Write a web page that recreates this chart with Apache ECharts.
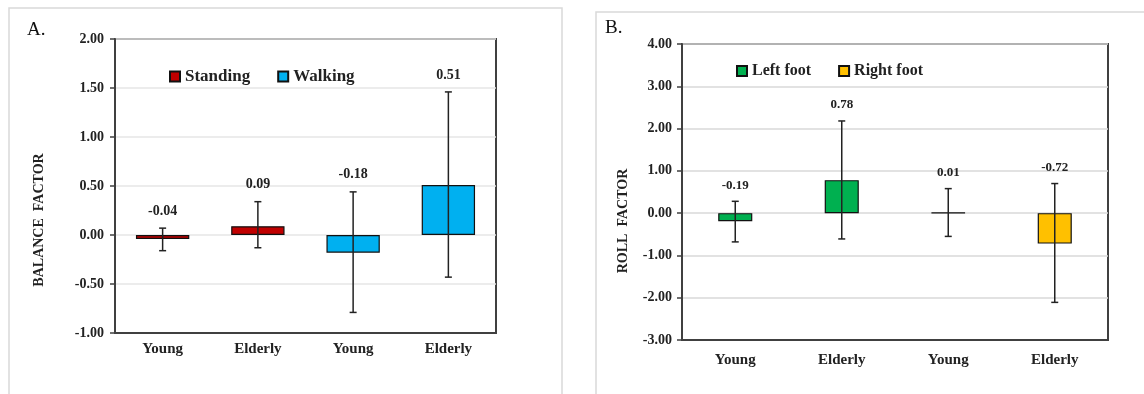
<!DOCTYPE html>
<html>
<head>
<meta charset="UTF-8" />
<script src="https://cdn.jsdelivr.net/npm/echarts@6/dist/echarts.min.js"></script>
<style>
  html, body { margin: 0; padding: 0; background: #fff; }
  #chart { width: 1144px; height: 394px; }
</style>
</head>
<body>
<div id="chart"></div>
<script>
// panel A: balance factor
const catsA = ['Young', 'Elderly', 'Young', 'Elderly'];
const standingMean = [-0.04, 0.09, '-', '-'];
const walkingMean = ['-', '-', -0.18, 0.51];
const meanA = [-0.04, 0.09, -0.18, 0.51];
const lowA = [-0.16, -0.13, -0.79, -0.43];
const highA = [0.07, 0.34, 0.44, 1.46];

// panel B: roll factor
const catsB = ['Young', 'Elderly', 'Young', 'Elderly'];
const leftMean = [-0.19, 0.78, '-', '-'];
const rightMean = ['-', '-', 0.01, -0.72];
const meanB = [-0.19, 0.78, 0.01, -0.72];
const lowB = [-0.68, -0.61, -0.55, -2.11];
const highB = [0.28, 2.18, 0.58, 0.70];

const SERIF = '"Liberation Serif", "Times New Roman", serif';
const AXIS = '#404040';

function errData(mean, low, high) {
  return mean.map((m, i) => [i, low[i], high[i], m]);
}

function errSeries(xi, yi, mean, low, high, fontSize, gap) {
  return {
    type: 'custom',
    xAxisIndex: xi,
    yAxisIndex: yi,
    z: 10,
    silent: true,
    encode: { x: 0, y: [1, 2] },
    data: errData(mean, low, high),
    renderItem(params, api) {
      const i = api.value(0);
      const lo = api.coord([i, api.value(1)]);
      const hi = api.coord([i, api.value(2)]);
      const cap = 3.5;
      const ls = { stroke: '#222', lineWidth: 1.5 };
      return {
        type: 'group',
        children: [
          { type: 'line', shape: { x1: hi[0], y1: hi[1], x2: lo[0], y2: lo[1] }, style: ls },
          { type: 'line', shape: { x1: hi[0] - cap, y1: hi[1], x2: hi[0] + cap, y2: hi[1] }, style: ls },
          { type: 'line', shape: { x1: lo[0] - cap, y1: lo[1], x2: lo[0] + cap, y2: lo[1] }, style: ls },
          {
            type: 'text',
            x: hi[0],
            y: hi[1] - gap,
            style: {
              text: api.value(3).toFixed(2),
              align: 'center',
              verticalAlign: 'middle',
              fill: '#222',
              font: 'bold ' + fontSize + 'px ' + SERIF,
            },
          },
        ],
      };
    },
  };
}

function barSeries(name, xi, yi, data, color, width) {
  return {
    name,
    type: 'bar',
    xAxisIndex: xi,
    yAxisIndex: yi,
    data,
    barWidth: width,
    barGap: '-100%',
    itemStyle: { color, borderColor: '#111', borderWidth: 1.2 },
  };
}

function yAxisCfg(gi, min, max, interval, margin) {
  return {
    gridIndex: gi,
    type: 'value',
    min,
    max,
    interval,
    axisLine: { show: true, lineStyle: { color: AXIS, width: 2 } },
    axisTick: { show: true, length: 5, lineStyle: { color: AXIS, width: 1.5 } },
    axisLabel: {
      margin,
      color: '#222',
      fontFamily: SERIF,
      fontWeight: 'bold',
      fontSize: 14,
      formatter: (v) => v.toFixed(2),
    },
    splitLine: { show: true, lineStyle: { color: gi === 0 ? '#e6e6e6' : '#d9d9d9', width: 1.5 } },
  };
}

function xAxisCfg(gi, cats, margin) {
  return {
    gridIndex: gi,
    type: 'category',
    data: cats,
    axisLine: { show: true, onZero: false, lineStyle: { color: AXIS, width: 2 } },
    axisTick: { show: false },
    axisLabel: {
      margin,
      color: '#222',
      fontFamily: SERIF,
      fontWeight: 'bold',
      fontSize: 15,
    },
    splitLine: { show: false },
  };
}

const option = {
  backgroundColor: '#fff',
  animation: false,
  graphic: [
    { type: 'rect', shape: { x: 9, y: 8, width: 553, height: 400 }, style: { fill: 'none', stroke: '#d9d9d9', lineWidth: 1.5 }, z: -1 },
    { type: 'rect', shape: { x: 596, y: 12, width: 560, height: 400 }, style: { fill: 'none', stroke: '#d9d9d9', lineWidth: 1.5 }, z: -1 },
    { type: 'text', x: 27, y: 30, style: { text: 'A.', font: '19px ' + SERIF, fill: '#111', verticalAlign: 'middle' } },
    { type: 'text', x: 605, y: 28, style: { text: 'B.', font: '19px ' + SERIF, fill: '#111', verticalAlign: 'middle' } },
    {
      type: 'text', x: 39, y: 220, rotation: Math.PI / 2,
      style: { text: 'BALANCE  FACTOR', font: 'bold 14px ' + SERIF, fill: '#222', align: 'center', verticalAlign: 'middle' },
    },
    {
      type: 'text', x: 623, y: 221, rotation: Math.PI / 2,
      style: { text: 'ROLL  FACTOR', font: 'bold 14px ' + SERIF, fill: '#222', align: 'center', verticalAlign: 'middle' },
    },
  ],
  legend: [
    {
      data: ['Standing', 'Walking'],
      left: 169,
      top: 68,
      padding: 0,
      itemWidth: 10,
      itemHeight: 10,
      itemGap: 27,
      icon: 'rect',
      textStyle: { fontFamily: SERIF, fontWeight: 'bold', fontSize: 17, color: '#222' },
    },
    {
      data: ['Left foot', 'Right foot'],
      left: 736,
      top: 63,
      padding: 0,
      itemWidth: 10,
      itemHeight: 10,
      itemGap: 27,
      icon: 'rect',
      textStyle: { fontFamily: SERIF, fontWeight: 'bold', fontSize: 16, color: '#222' },
    },
  ],
  grid: [
    { left: 115, top: 39, width: 381, height: 294, show: true, borderColor: AXIS, borderWidth: 2, backgroundColor: '#fff' },
    { left: 682, top: 44, width: 426, height: 296, show: true, borderColor: AXIS, borderWidth: 2, backgroundColor: '#fff' },
  ],
  xAxis: [xAxisCfg(0, catsA, 9), xAxisCfg(1, catsB, 13)],
  yAxis: [yAxisCfg(0, -1, 2, 0.5, 11), yAxisCfg(1, -3, 4, 1, 10)],
  series: [
    barSeries('Standing', 0, 0, standingMean, '#c00000', '56%'),
    barSeries('Walking', 0, 0, walkingMean, '#00b0f0', '56%'),
    errSeries(0, 0, meanA, lowA, highA, 14, 17),
    barSeries('Left foot', 1, 1, leftMean, '#00b050', '32%'),
    barSeries('Right foot', 1, 1, rightMean, '#ffc000', '32%'),
    errSeries(1, 1, meanB, lowB, highB, 13, 16),
  ],
};

const chart = echarts.init(document.getElementById('chart'));
chart.setOption(option);
</script>
</body>
</html>
